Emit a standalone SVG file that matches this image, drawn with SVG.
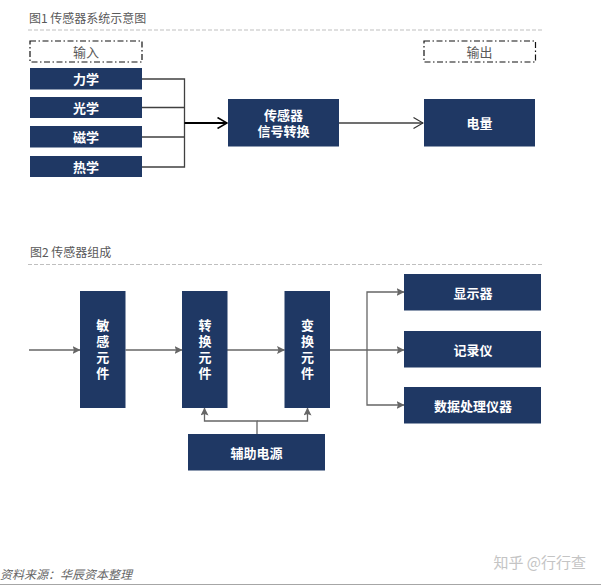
<svg xmlns="http://www.w3.org/2000/svg" width="601" height="587" viewBox="0 0 601 587">
<style>
text{font-family:"Noto Sans CJK SC","Liberation Sans",sans-serif;text-anchor:middle;dominant-baseline:central}
.box{fill:#1f3864}
.t{fill:#fff;font-size:13px;font-weight:700}
.s{font-family:"Liberation Sans","Noto Sans CJK SC",sans-serif}
.v{writing-mode:vertical-rl;letter-spacing:3px}
.h{fill:#595959;font-size:12px;text-anchor:start}
.d{fill:#fff;stroke:#111;stroke-width:1.2;stroke-dasharray:6 2.5 1.5 2.5}
.g{fill:#595959;font-size:13px}
.rule{stroke:#bfbfbf;stroke-width:1;stroke-dasharray:4 2;fill:none}
.k{fill:none;stroke:#404040;stroke-width:1.3}
.a{fill:none;stroke:#666;stroke-width:1.3}
</style>
<defs>
<marker id="tri" viewBox="0 0 8 8" refX="7.5" refY="4" markerWidth="8" markerHeight="8" markerUnits="userSpaceOnUse" orient="auto"><path d="M0 0L8 4L0 8L1.5 4Z" fill="#666"/></marker>
<marker id="open" viewBox="0 0 11 12" refX="10.5" refY="6" markerWidth="11" markerHeight="12" markerUnits="userSpaceOnUse" orient="auto"><path d="M1 .5L10.5 6L1 11.5" fill="none" stroke="#333" stroke-width="1.2"/></marker>
<marker id="openb" viewBox="0 0 11 12" refX="10.5" refY="6" markerWidth="11" markerHeight="12" markerUnits="userSpaceOnUse" orient="auto"><path d="M1 .5L10.5 6L1 11.5" fill="none" stroke="#000" stroke-width="1.6"/></marker>
</defs>
<rect width="601" height="587" fill="#fff"/>
<g id="headings">
<text class="h" x="29" y="17">图1 传感器系统示意图</text>
<path class="rule" d="M28 30H542"/>
<text class="h" x="30" y="251.500">图2 传感器组成</text>
<path class="rule" d="M28 264.500H542"/>
</g>
<g id="connectors">
<path class="k" d="M142 79H184.500V167H142M142 107.500H184.500M142 137H184.500"/>
<path d="M184.500 123H227" fill="none" stroke="#000" stroke-width="1.800" marker-end="url(#openb)"/>
<path class="k" d="M339 123H423" marker-end="url(#open)"/>
<path class="a" d="M29 350H80" marker-end="url(#tri)"/>
<path class="a" d="M125.500 350H182" marker-end="url(#tri)"/>
<path class="a" d="M227 350H284.500" marker-end="url(#tri)"/>
<path class="a" d="M330 350H404" marker-end="url(#tri)"/>
<path class="a" d="M367 350V292H404" marker-end="url(#tri)"/>
<path class="a" d="M367 350V405H404" marker-end="url(#tri)"/>
<path class="a" d="M257 434V421H204.500V408" marker-end="url(#tri)"/>
<path class="a" d="M257 421H307.500V408" marker-end="url(#tri)"/>
</g>
<g id="input"><rect class="d" x="30" y="41" width="112" height="21"/><text class="g" x="86" y="51.500">输入</text></g>
<g id="output"><rect class="d" x="424" y="41" width="111.500" height="21"/><text class="g" x="479.500" y="51.500">输出</text></g>
<g id="n-li"><rect class="box" x="30" y="68" width="112" height="21.500"/><text class="t" x="86" y="78.500">力学</text></g>
<g id="n-guang"><rect class="box" x="30" y="97" width="112" height="21"/><text class="t" x="86" y="107">光学</text></g>
<g id="n-ci"><rect class="box" x="30" y="126" width="112" height="21.500"/><text class="t" x="86" y="136.500">磁学</text></g>
<g id="n-re"><rect class="box" x="30" y="156" width="112" height="21"/><text class="t" x="86" y="166">热学</text></g>
<g id="n-sensor"><rect class="box" x="228" y="99" width="111" height="47.500"/><text class="t s" x="283.500" y="115">传感器</text><text class="t s" x="283.500" y="131.500">信号转换</text></g>
<g id="n-elec"><rect class="box" x="424" y="99" width="111" height="47.500"/><text class="t" x="479.500" y="122.500">电量</text></g>
<g id="n-min"><rect class="box" x="80" y="291" width="45.500" height="117"/><text class="t v" x="102.750" y="351">敏感元件</text></g>
<g id="n-zhuan"><rect class="box" x="182" y="291" width="45.500" height="117"/><text class="t v" x="205" y="351">转换元件</text></g>
<g id="n-bian"><rect class="box" x="284.500" y="291" width="45.500" height="117"/><text class="t v" x="307.500" y="351">变换元件</text></g>
<g id="n-aux"><rect class="box" x="188" y="434" width="137" height="36.500"/><text class="t" x="256.500" y="452.500">辅助电源</text></g>
<g id="n-show"><rect class="box" x="404" y="274" width="137" height="36.500"/><text class="t" x="473" y="292.500">显示器</text></g>
<g id="n-rec"><rect class="box" x="404" y="331" width="137" height="36.500"/><text class="t" x="473" y="349.500">记录仪</text></g>
<g id="n-data"><rect class="box" x="404" y="387" width="137" height="36.500"/><text class="t" x="473" y="405">数据处理仪器</text></g>
<g id="footer">
<text x="0" y="573" style="text-anchor:start;font-size:12px;font-style:italic;fill:#666">资料来源：华辰资本整理</text>
<text x="586" y="561" style="text-anchor:end;font-size:15px;fill:#c4c4c4">知乎 @行行查</text>
<path d="M0 584.500H601" stroke="#a6a6a6" stroke-width="1"/>
</g>
</svg>
